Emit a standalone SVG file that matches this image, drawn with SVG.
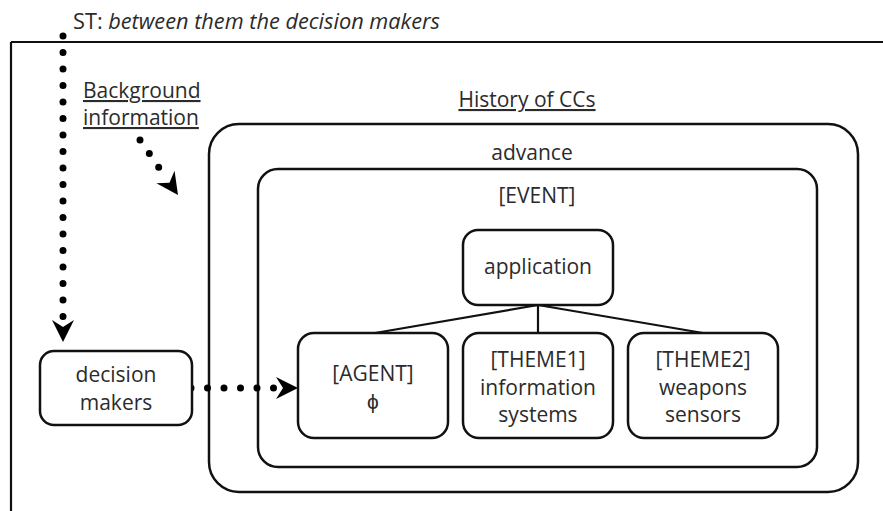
<svg xmlns="http://www.w3.org/2000/svg" width="883" height="511" viewBox="0 0 883 511">
  <style>
    text { font-family: "Open Sans", "Liberation Sans", sans-serif; font-size: 21px; fill: #2b2b2b; }
    .c { text-anchor: middle; }
    .u { text-decoration: underline; }
    .box { fill: #ffffff; stroke: #111111; stroke-width: 2.5; }
    .frame { fill: none; stroke: #111111; stroke-width: 2.2; }
    .tree { fill: none; stroke: #111111; stroke-width: 2.2; }
    .dots { fill: none; stroke: #000000; stroke-width: 7; stroke-linecap: round; stroke-dasharray: 0 16.5; }
  </style>
  <defs>
    <!-- concave arrowhead, tip at the origin, pointing along +x -->
    <path id="head" d="M0,0 L-22,-11 L-15,0 L-22,11 Z" fill="#000000"/>
  </defs>

  <!-- page frame -->
  <path class="frame" d="M11,42 H883 M11,42 V511"/>

  <!-- heading -->
  <text x="73" y="29" textLength="367" lengthAdjust="spacingAndGlyphs">ST: <tspan font-style="italic">between them the decision makers</tspan></text>

  <g id="background-info">
    <text class="u" x="83" y="98">Background</text>
    <text class="u" x="83" y="125">information</text>
  </g>

  <g id="history">
    <text class="c u" x="527" y="107">History of CCs</text>
    <rect class="box" x="209" y="124" width="649" height="368" rx="30"/>
    <text class="c" x="532" y="160">advance</text>
  </g>

  <g id="event">
    <rect class="box" x="258" y="169" width="559" height="298" rx="20"/>
    <text class="c" x="537" y="203">[EVENT]</text>
  </g>

  <g id="connectors">
    <path class="tree" d="M538,305 L375,333 M538,305 V333 M538,305 L703,333"/>
    <!-- ST down to decision makers -->
    <path class="dots" d="M63,36 V322"/>
    <use href="#head" transform="translate(63,342) rotate(90)"/>
    <!-- background information into the history box -->
    <path class="dots" d="M140,140 L164,175"/>
    <use href="#head" transform="translate(178,195) rotate(55.36)"/>
    <!-- decision makers to agent -->
    <path class="dots" d="M191,388 H278"/>
    <use href="#head" transform="translate(298,388)"/>
  </g>

  <g id="application">
    <rect class="box" x="463" y="230" width="150" height="75" rx="15"/>
    <text class="c" x="538" y="274">application</text>
  </g>

  <g id="agent">
    <rect class="box" x="298" y="333" width="150" height="105" rx="16"/>
    <text class="c" x="373" y="381">[AGENT]</text>
    <text class="c" x="373" y="409">ϕ</text>
  </g>

  <g id="theme1">
    <rect class="box" x="463" y="333" width="150" height="105" rx="16"/>
    <text class="c" x="538" y="367">[THEME1]</text>
    <text class="c" x="538" y="395">information</text>
    <text class="c" x="538" y="422">systems</text>
  </g>

  <g id="theme2">
    <rect class="box" x="628" y="333" width="150" height="105" rx="16"/>
    <text class="c" x="703" y="367">[THEME2]</text>
    <text class="c" x="703" y="395">weapons</text>
    <text class="c" x="703" y="422">sensors</text>
  </g>

  <g id="decision-makers">
    <rect class="box" x="40" y="351" width="152" height="74" rx="14"/>
    <text class="c" x="116" y="382">decision</text>
    <text class="c" x="116" y="410">makers</text>
  </g>
</svg>
